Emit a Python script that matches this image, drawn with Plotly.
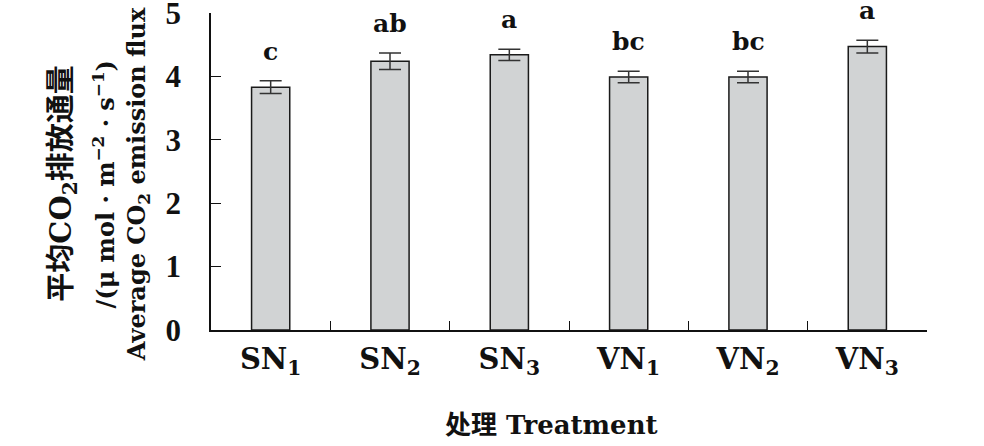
import plotly.graph_objects as go

categories = ["SN<sub>1</sub>", "SN<sub>2</sub>", "SN<sub>3</sub>", "VN<sub>1</sub>", "VN<sub>2</sub>", "VN<sub>3</sub>"]
means = [3.83, 4.24, 4.34, 3.99, 3.99, 4.47]
errors = [0.10, 0.13, 0.09, 0.09, 0.09, 0.10]
letters = ["c", "ab", "a", "bc", "bc", "a"]
y_ticks = [0, 1, 2, 3, 4, 5]

SERIF = "DejaVu Serif, Noto Sans CJK SC, serif"
TIMES = "Liberation Serif, Times New Roman, serif"

fig = go.Figure()
fig.add_trace(go.Bar(
    x=categories, y=means,
    marker=dict(color="#d1d3d4", line=dict(color="#1a1a1a", width=1.5)),
    error_y=dict(type="data", array=errors, visible=True, color="#333333", thickness=1.5, width=11),
    showlegend=False,
))

for c, m, e, l in zip(categories, means, errors, letters):
    fig.add_annotation(x=c, y=m + e, xref="x", yref="y", text=l, showarrow=False,
                       yanchor="bottom", yshift=13,
                       font=dict(family=SERIF, size=25, color="#111", weight="bold"))

# y-axis title (three lines)
ytitle_lines = ["平均CO<sub>2</sub>排放通量", "/(μ mol · m<sup>−2</sup> · s<sup>−1</sup>)", "Average CO<sub>2</sub> emission flux"]
ytitle_x = [-0.206, -0.149, -0.102]
ytitle_size = [29, 24, 24]
for t, xx, s in zip(ytitle_lines, ytitle_x, ytitle_size):
    fig.add_annotation(x=xx, y=0.46, xref="paper", yref="paper", text=t, showarrow=False,
                       textangle=-90, xanchor="center", yanchor="middle",
                       font=dict(family=SERIF, size=s, color="#111", weight="bold"))

fig.add_annotation(x=(551 - 211) / 716, y=-(425 - 330) / 317, xref="paper", yref="paper",
                   text="处理 Treatment", showarrow=False, xanchor="center", yanchor="middle",
                   font=dict(family=SERIF, size=26, color="#111", weight="bold"))

fig.update_layout(
    width=984, height=446,
    margin=dict(l=211, r=57, t=13, b=116),
    plot_bgcolor="white", paper_bgcolor="white",
    bargap=0.68,
    font=dict(family=SERIF, color="#111", weight="bold"),
)
fig.update_xaxes(
    showline=True, linecolor="#111", linewidth=1.5,
    ticks="inside", tickson="boundaries", ticklen=9, tickwidth=1.3, tickcolor="#111",
    tickfont=dict(family=SERIF, size=29, color="#111", weight="bold"),
    ticklabelstandoff=2, showgrid=False, automargin=False,
)
fig.update_yaxes(
    range=[0, 5], tickvals=y_ticks, ticktext=[str(v) for v in y_ticks],
    showline=True, linecolor="#111", linewidth=1.5,
    ticks="inside", ticklen=10, tickwidth=1.3, tickcolor="#111",
    tickfont=dict(family=TIMES, size=31, color="#111", weight="bold"),
    ticklabelstandoff=22, ticklabeloverflow="allow", showgrid=False, zeroline=False,
    automargin=False,
)

fig.write_html("out.html")
